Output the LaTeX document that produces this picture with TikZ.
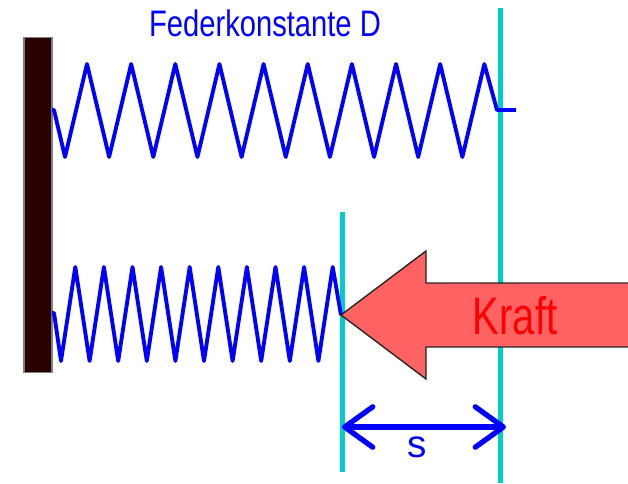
\documentclass[tikz,border=0pt]{standalone}
\usepackage{xcolor}
\usepackage{fontspec}
\setmainfont{Liberation Sans}
\definecolor{wallbrown}{HTML}{2b0000}
\definecolor{markcyan}{HTML}{00cccc}
\definecolor{forcered}{HTML}{ff6262}
\usetikzlibrary{arrows.meta, positioning}

\begin{document}
\begin{tikzpicture}[
    x=0.02cm, y=-0.02cm,
    wall/.style={draw=gray, line width=0.6pt, fill=wallbrown, minimum width=0.56cm, minimum height=6.72cm, inner sep=0pt},
    spring/.style={draw=blue, line width=2.2pt, line join=round},
    marker/.style={draw=markcyan, line width=2.8pt},
    force/.style={draw=black!85, line width=0.8pt, fill=forcered, line join=miter},
    dimline/.style={draw=blue, line width=3pt, {Straight Barb[length=16pt, width=23pt, line width=3pt, round]}-{Straight Barb[length=16pt, width=23pt, line width=3pt, round]}},
    caption/.style={text=blue, inner sep=0pt}
]
    \useasboundingbox (0,0) rectangle (628,483);

    % Wall
    \node[wall] (wall) at (38,205) {};

    % Markers
    \coordinate (m1a) at (500.5,8);
    \coordinate (m1b) at (500.5,483);
    \coordinate (m2a) at (342.5,212);
    \coordinate (m2b) at (342.5,472);
    \draw[marker] (m1a) -- (m1b);
    \draw[marker] (m2a) -- (m2b);

    % Relaxed spring
    \coordinate (s1a) at (52,110);
    \coordinate (s1b) at (516,110);
    \draw[spring] (s1a) -- (54,110)
        \foreach \i in {0,...,9} { -- ({65+44.15*\i},157) -- ({87+44.15*\i},64) }
        -- (497,110) -- (s1b);

    % Compressed spring
    \coordinate (s2a) at (52,313);
    \coordinate (s2b) at (341,315);
    \draw[spring] (s2a) -- (54,313)
        \foreach \i in {0,...,9} { -- ({61+28.6*\i},361) -- ({75.3+28.6*\i},267) }
        -- (s2b);

    % Force arrow
    \draw[force] (s2b) -- (426,251) -- (426,283) -- (629,283) -- (629,347) -- (426,347) -- (426,379) -- cycle;
    \node[text=red, font=\fontsize{30}{30}\selectfont, xscale=0.76, inner sep=0pt] (kraft) at (515,316) {Kraft};

    % Captions
    \node[caption, font=\fontsize{21}{21}\selectfont, xscale=0.79] (feder) at (265,23) {Federkonstante D};

    % Distance
    \coordinate (d1) at (342,427);
    \coordinate (d2) at (506,427);
    \draw[dimline] (d1) -- (d2);
    \node[caption, font=\fontsize{22}{22}\selectfont] (dist) at (417,447) {s};
\end{tikzpicture}
\end{document}
